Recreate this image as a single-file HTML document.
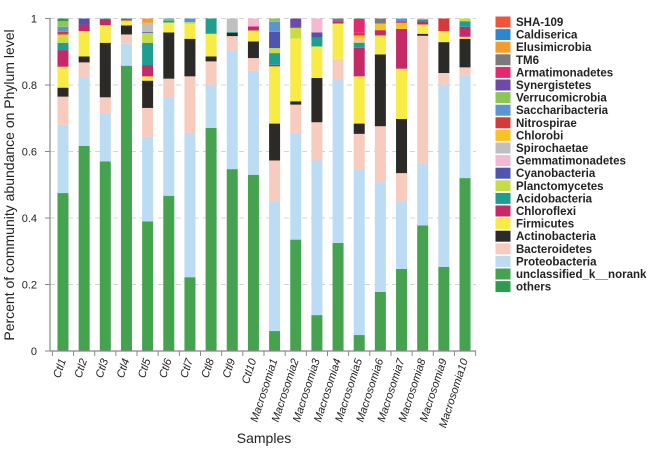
<!DOCTYPE html>
<html><head><meta charset="utf-8"><style>
body{margin:0;background:#fff;}
svg{display:block;font-family:"Liberation Sans",Arial,sans-serif;}
</style></head><body>
<svg id="chart" width="650" height="455"></svg>
<script>
const samples=["Ctl1","Ctl2","Ctl3","Ctl4","Ctl5","Ctl6","Ctl7","Ctl8","Ctl9","Ctl10","Macrosomia1","Macrosomia2","Macrosomia3","Macrosomia4","Macrosomia5","Macrosomia6","Macrosomia7","Macrosomia8","Macrosomia9","Macrosomia10"];
const unclassified=[.475,.617,.57,.858,.39,.467,.222,.671,.547,.53,.06,.335,.108,.325,.048,.178,.247,.378,.253,.52];
const proteobacteria=[.205,.204,.146,.066,.254,.297,.434,.13,.357,.313,.39,.321,.465,.493,.499,.33,.203,.187,.548,.308];
const bacteroidetes=[.085,.047,.047,.028,.087,.055,.17,.07,.043,.038,.123,.085,.115,.061,.106,.168,.085,.383,.035,.025];
const actinobacteria=[.027,.018,.164,.027,.082,.139,.113,.015,.01,.05,.111,.01,.133,0,.031,.216,.163,.006,.093,.086];
const firmicutes=[.063,.076,.053,.015,.013,.03,.045,.068,0,.033,.172,.189,.095,.106,.142,.057,.151,.028,.033,.006];
const chloroflexi=[.05,.02,.017,.003,.034,0,0,0,0,.012,.005,0,0,.007,.086,.016,.12,.01,0,.03];
const acidobacteria=[.022,0,.003,.003,.067,.006,0,.046,.003,0,.035,0,.027,0,.015,0,0,.005,0,.017];
const planctomycetes=[.02,0,0,0,.03,.003,.005,0,0,0,.015,.032,0,0,.004,0,0,0,0,.008];
const cyanobacteria=[0,.018,0,0,.003,0,0,0,0,0,.049,0,.015,0,0,0,0,0,0,0];
const gemmatimonadetes=[0,0,0,0,0,0,0,0,0,.024,0,0,.042,0,.008,0,0,.003,0,0];
const spirochaetae=[0,0,0,0,.027,0,0,0,.04,0,0,0,0,0,0,0,0,0,0,0];
const chlorobi=[.005,0,0,0,0,0,0,0,0,0,0,0,0,0,.01,.02,.018,0,0,0];
const nitrospirae=[.008,0,0,0,0,0,0,0,0,0,0,0,0,0,.008,0,.005,0,.038,0];
const saccharibacteria=[.015,0,0,0,0,.003,.011,0,0,0,.03,0,0,0,0,0,.008,0,0,0];
const verrucomicrobia=[.017,0,0,0,0,0,0,0,0,0,.015,0,0,0,0,0,0,0,0,0];
const synergistetes=[0,0,0,0,0,0,0,0,0,0,0,.028,0,0,0,0,0,0,0,0];
const armatimonadetes=[0,0,0,0,0,0,0,0,0,0,0,0,0,0,.04,0,0,0,0,0];
const tm6=[0,0,0,0,0,0,0,0,0,0,0,0,0,.008,0,.015,0,0,0,0];
const elusimicrobia=[0,0,0,0,.013,0,0,0,0,0,0,0,0,0,0,0,0,0,0,0];
const caldiserica=[0,0,0,0,0,0,0,0,0,0,0,0,0,0,0,0,0,0,0,0];
const sha109=[0,0,0,0,0,0,0,0,0,0,0,0,0,0,0,0,0,0,0,0];
const others=[.01,0,0,0,0,0,0,0,0,0,0,0,0,0,.003,0,0,0,0,0];
const yTicks=[0,0.2,0.4,0.6,0.8,1];
const yTickLabels=["0","0.2","0.4","0.6","0.8","1"];
// bottom-up stacking order
const stackNames=["unclassified_k__norank","Proteobacteria","Bacteroidetes","Actinobacteria","Firmicutes","Chloroflexi","Acidobacteria","Planctomycetes","Cyanobacteria","Gemmatimonadetes","Spirochaetae","Chlorobi","Nitrospirae","Saccharibacteria","Verrucomicrobia","Synergistetes","Armatimonadetes","TM6","Elusimicrobia","Caldiserica","SHA-109","others"];
const stackData=[unclassified,proteobacteria,bacteroidetes,actinobacteria,firmicutes,chloroflexi,acidobacteria,planctomycetes,cyanobacteria,gemmatimonadetes,spirochaetae,chlorobi,nitrospirae,saccharibacteria,verrucomicrobia,synergistetes,armatimonadetes,tm6,elusimicrobia,caldiserica,sha109,others];
const colors={"SHA-109":"#f0553c","Caldiserica":"#2e86d0","Elusimicrobia":"#f39c2a","TM6":"#7a7a7a","Armatimonadetes":"#e8286e","Synergistetes":"#6b4aa8","Verrucomicrobia":"#8cc653","Saccharibacteria":"#5b93d4","Nitrospirae":"#d7383a","Chlorobi":"#f7c224","Spirochaetae":"#bfbfbf","Gemmatimonadetes":"#f4b8d2","Cyanobacteria":"#4f55ae","Planctomycetes":"#c7dc44","Acidobacteria":"#1e9e91","Chloroflexi":"#c42a68","Firmicutes":"#f6ec45","Actinobacteria":"#2b2a27","Bacteroidetes":"#f8cbbf","Proteobacteria":"#bcdcf3","unclassified_k__norank":"#45a24f","others":"#2d9a4e"};
const legendOrder=["SHA-109","Caldiserica","Elusimicrobia","TM6","Armatimonadetes","Synergistetes","Verrucomicrobia","Saccharibacteria","Nitrospirae","Chlorobi","Spirochaetae","Gemmatimonadetes","Cyanobacteria","Planctomycetes","Acidobacteria","Chloroflexi","Firmicutes","Actinobacteria","Bacteroidetes","Proteobacteria","unclassified_k__norank","others"];

const NS="http://www.w3.org/2000/svg";
const svg=document.getElementById('chart');
function mk(tag,attrs,parent){const e=document.createElementNS(NS,tag);for(const k in attrs)e.setAttribute(k,attrs[k]);(parent||svg).appendChild(e);return e;}
const X0=52.4,BW=21.16,Y0=351,Y1=18.5;
function yScale(v){return Y0-(Y0-Y1)*v;}
function xCenter(i){return X0+BW*(i+0.5);}

// gridlines + y ticks
yTicks.forEach((t,i)=>{
  const y=yScale(t);
  if(t>0){const g=mk('line',{x1:50,x2:476,y1:y,y2:y,stroke:'#d4d4d4','stroke-dasharray':'5,4','stroke-width':1});
  
  }
  const tk=mk('line',{x1:45,x2:50,y1:y,y2:y,stroke:'#888'});
  
  
  const tx=mk('text',{x:37,y:y+4,'text-anchor':'end','font-size':11,fill:'#222'});
  tx.textContent=yTickLabels[i];
  
  
});

// bars
samples.forEach((s,i)=>{
  let cum=0;
  const g=mk('g',{});
  
  
  stackData.forEach((arr,k)=>{
    const v=arr[i];
    if(!v)return;
    let top=Math.min(1,cum+v);
    const r=mk('rect',{x:xCenter(i)-5.5,y:yScale(top),width:11,height:Math.max(0,yScale(cum)-yScale(top)),fill:colors[stackNames[k]]},g);
    
    
    cum=top;
  });
  const tk=mk('line',{x1:X0+BW*i,x2:X0+BW*i,y1:351,y2:356,stroke:'#888'});
  
  
  const lx=xCenter(i)+3,ly=360;
  const t=mk('text',{x:lx,y:ly,'text-anchor':'end','font-size':11,'font-style':'italic',fill:'#222',transform:'rotate(-72 '+lx+' '+ly+')'});
  t.textContent=s;
  
  
});
const lastTk=mk('line',{x1:X0+BW*20,x2:X0+BW*20,y1:351,y2:356,stroke:'#888'});



// axes
const ya=mk('line',{x1:50,x2:50,y1:18,y2:351,stroke:'#888','stroke-width':1.2});


const xa=mk('line',{x1:50,x2:476,y1:351,y2:351,stroke:'#888','stroke-width':1.2});



const yt=mk('text',{x:14,y:185,'text-anchor':'middle','font-size':14,fill:'#222',transform:'rotate(-90 14 185)'});
yt.textContent='Percent of community abundance on Phylum level';


const xt=mk('text',{x:264,y:443,'text-anchor':'middle','font-size':14,fill:'#222'});
xt.textContent='Samples';



// legend
legendOrder.forEach((n,i)=>{
  const y=22+12.6*i;
  const g=mk('g',{});
  
  
  mk('rect',{x:495.5,y:y-5.5,width:15,height:11,fill:colors[n]},g);
  const t=mk('text',{x:516,y:y+4,'font-size':11.5,'font-weight':'bold',fill:'#222'},g);
  t.textContent=n;
});
</script>
</body></html>
